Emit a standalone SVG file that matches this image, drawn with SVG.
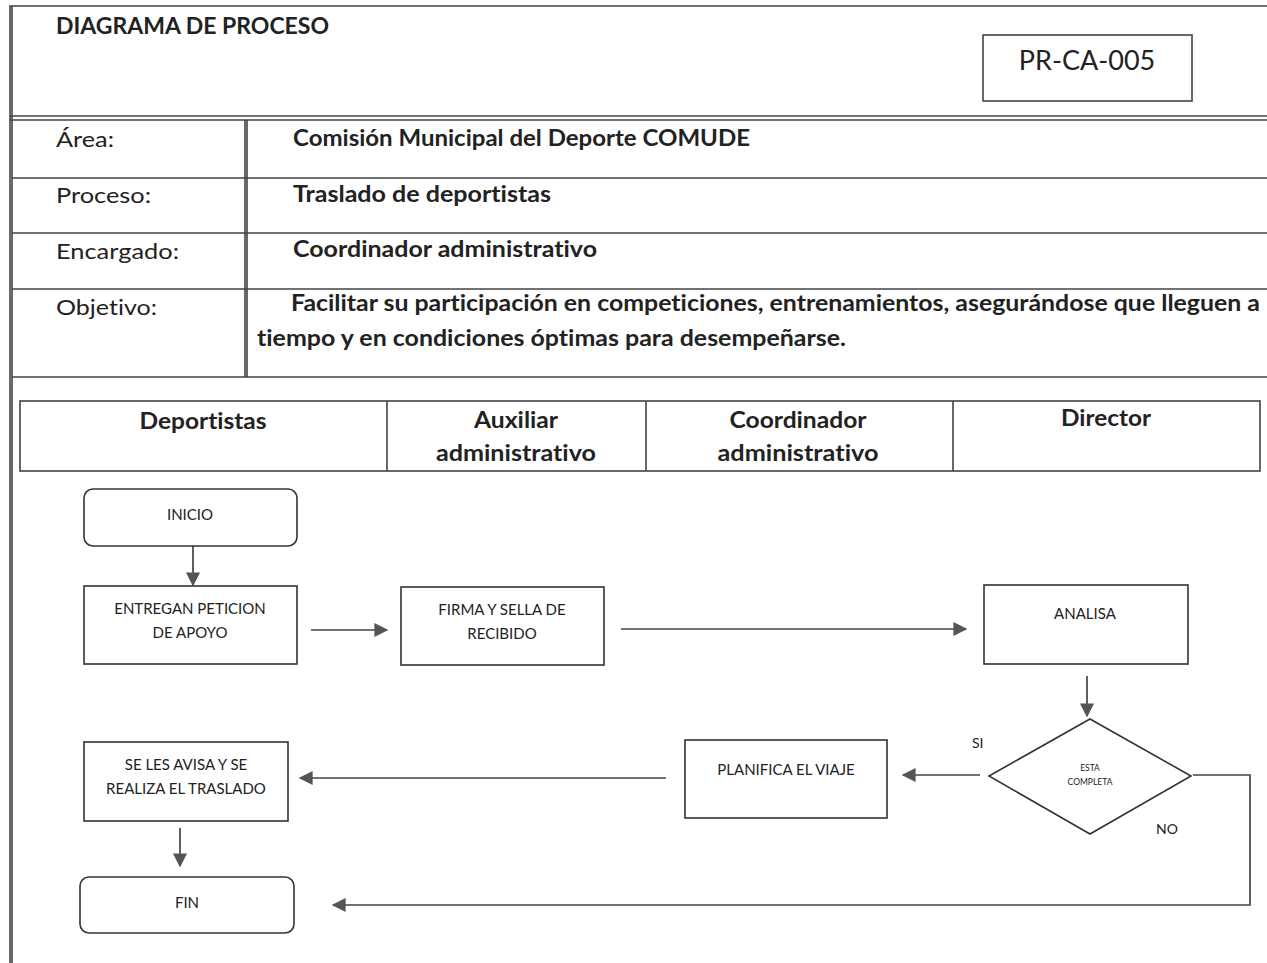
<svg xmlns="http://www.w3.org/2000/svg" width="1267" height="963" viewBox="0 0 1267 963">
<style>
  text { font-family: Lato, "Open Sans", "Liberation Sans", sans-serif; fill: #222; font-variant-ligatures: none; }
  .hdr { font-size: 22px; }
  .b { font-weight: bold; }
  .lane { font-size: 23px; font-weight: bold; text-anchor: middle; }
  .nt { font-size: 15px; text-anchor: middle; }
  .frame { fill: none; stroke: #444; stroke-width: 1.6; }
  .node { fill: #fff; stroke: #333; stroke-width: 1.6; }
  .conn { fill: none; stroke: #444; stroke-width: 1.7; }
  .arr { marker-end: url(#ah); }
</style>
<defs>
  <marker id="ah" viewBox="0 0 10 10" refX="9" refY="5" markerWidth="15" markerHeight="14" markerUnits="userSpaceOnUse" orient="auto">
    <path d="M0,0 L10,5 L0,10 z" fill="#555"/>
  </marker>
</defs>
<rect width="1267" height="963" fill="#fff"/>

<g id="header">
  <path class="frame" d="M1267,6 H10 V963 M12,6 V963"/>
  <path class="frame" d="M10,116 H1267 M10,120 H1267"/>
  <text class="hdr b" x="56" y="34" font-size="21" textLength="273" lengthAdjust="spacingAndGlyphs">DIAGRAMA DE PROCESO</text>
  <rect class="frame" x="983" y="35" width="209" height="66"/>
  <text x="1087" y="70" font-size="27" text-anchor="middle">PR-CA-005</text>
</g>

<g id="info-table">
  <path class="frame" d="M247,120 V377 M245,120 V377 M12,178 H1267 M12,233 H1267 M12,289 H1267 M12,377 H1267"/>
  <text class="hdr" x="56" y="147" textLength="58" lengthAdjust="spacingAndGlyphs">Área:</text>
  <text class="hdr b" x="293" y="146" textLength="457" lengthAdjust="spacingAndGlyphs">Comisión Municipal del Deporte COMUDE</text>
  <text class="hdr" x="56" y="203" textLength="95" lengthAdjust="spacingAndGlyphs">Proceso:</text>
  <text class="hdr b" x="293" y="202" textLength="258" lengthAdjust="spacingAndGlyphs">Traslado de deportistas</text>
  <text class="hdr" x="56" y="259" textLength="123" lengthAdjust="spacingAndGlyphs">Encargado:</text>
  <text class="hdr b" x="293" y="257" textLength="304" lengthAdjust="spacingAndGlyphs">Coordinador administrativo</text>
  <text class="hdr" x="56" y="315" textLength="101" lengthAdjust="spacingAndGlyphs">Objetivo:</text>
  <text class="hdr b" x="291" y="311" textLength="969" lengthAdjust="spacingAndGlyphs">Facilitar su participación en competiciones, entrenamientos, asegurándose que lleguen a</text>
  <text class="hdr b" x="257" y="346" textLength="589" lengthAdjust="spacingAndGlyphs">tiempo y en condiciones óptimas para desempeñarse.</text>
</g>

<g id="lanes">
  <rect class="frame" x="20" y="401" width="1240" height="70"/>
  <path class="frame" d="M387,401 V471 M646,401 V471 M953,401 V471"/>
  <text class="lane" x="203" y="429" textLength="127" lengthAdjust="spacingAndGlyphs">Deportistas</text>
  <text class="lane" x="516" y="428" textLength="84" lengthAdjust="spacingAndGlyphs">Auxiliar</text>
  <text class="lane" x="516" y="461" textLength="160" lengthAdjust="spacingAndGlyphs">administrativo</text>
  <text class="lane" x="798" y="428" textLength="137" lengthAdjust="spacingAndGlyphs">Coordinador</text>
  <text class="lane" x="798" y="461" textLength="161" lengthAdjust="spacingAndGlyphs">administrativo</text>
  <text class="lane" x="1106" y="426" textLength="90" lengthAdjust="spacingAndGlyphs">Director</text>
</g>

<g id="connectors">
  <path class="conn arr" d="M193,546 V585"/>
  <path class="conn arr" d="M311,630 H387"/>
  <path class="conn arr" d="M621,629 H966"/>
  <path class="conn arr" d="M1087,676 V716"/>
  <path class="conn arr" d="M980,775 H903"/>
  <path class="conn arr" d="M666,778 H300"/>
  <path class="conn arr" d="M180,828 V866"/>
  <path class="conn arr" d="M1193,775 H1250 V905 H333"/>
  <text x="972" y="748" font-size="14">SI</text>
  <text x="1156" y="834" font-size="14">NO</text>
</g>

<g id="inicio">
  <rect class="node" x="84" y="489" width="213" height="57" rx="9"/>
  <text class="nt" x="190" y="520">INICIO</text>
</g>
<g id="entregan">
  <rect class="node" x="84" y="586" width="213" height="78"/>
  <text class="nt" x="190" y="614">ENTREGAN PETICION</text>
  <text class="nt" x="190" y="638">DE APOYO</text>
</g>
<g id="firma">
  <rect class="node" x="401" y="587" width="203" height="78"/>
  <text class="nt" x="502" y="615">FIRMA Y SELLA DE</text>
  <text class="nt" x="502" y="639">RECIBIDO</text>
</g>
<g id="analisa">
  <rect class="node" x="984" y="585" width="204" height="79"/>
  <text class="nt" x="1085" y="619">ANALISA</text>
</g>
<g id="esta-completa">
  <path class="node" d="M1090,719 L1191,776 L1090,834 L989,776 Z"/>
  <text x="1090" y="771" font-size="8.5" text-anchor="middle">ESTA</text>
  <text x="1090" y="785" font-size="8.5" text-anchor="middle">COMPLETA</text>
</g>
<g id="planifica">
  <rect class="node" x="685" y="740" width="202" height="78"/>
  <text class="nt" x="786" y="775">PLANIFICA EL VIAJE</text>
</g>
<g id="avisa">
  <rect class="node" x="84" y="742" width="204" height="79"/>
  <text class="nt" x="186" y="770">SE LES AVISA Y SE</text>
  <text class="nt" x="186" y="794">REALIZA EL TRASLADO</text>
</g>
<g id="fin">
  <rect class="node" x="80" y="877" width="214" height="56" rx="9"/>
  <text class="nt" x="187" y="908">FIN</text>
</g>
</svg>
